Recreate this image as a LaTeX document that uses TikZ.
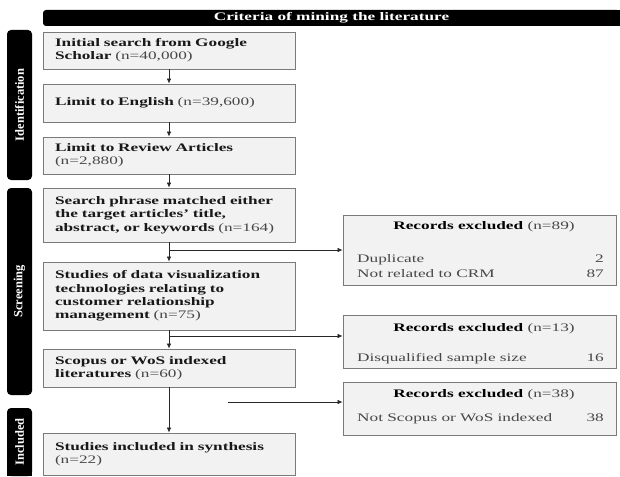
\documentclass[tikz,border=0pt]{standalone}
\usepackage{fontspec}
\setmainfont[FakeStretch=1.5]{Liberation Serif}
\newfontfamily\sidefont{Liberation Serif}
\usetikzlibrary{arrows.meta}
\pgfdeclarelayer{bg}
\pgfsetlayers{bg,main}
\definecolor{boxfill}{HTML}{F2F2F2}
\definecolor{boxline}{HTML}{7A7A7A}
\definecolor{numgray}{HTML}{474747}
\newcommand{\nval}[1]{\textmd{\color{numgray}#1}}
\begin{document}
\begin{tikzpicture}[x=1pt,y=-1pt,
  every node/.style={font=\fontsize{11.5}{13.3}\selectfont},
  mainbox/.style={draw=boxline, fill=boxfill, line width=0.8pt, text width=228pt,
    inner xsep=12pt, inner ysep=0pt, align=left, minimum width=252pt,
    font=\fontsize{11.5}{13.3}\selectfont\bfseries, text=black!90},
  exbox/.style={draw=boxline, fill=boxfill, line width=0.8pt, minimum width=273pt, inner sep=0pt},
  extitle/.style={anchor=base, inner sep=0pt, font=\fontsize{11.5}{13.3}\selectfont\bfseries},
  exitem/.style={anchor=base west, inner sep=0pt, text=numgray},
  exnum/.style={anchor=base east, inner sep=0pt, text=numgray},
  sidebar/.style={fill=black, rounded corners=4pt, rotate=90, minimum height=25pt, inner sep=0pt,
    text=white, font=\sidefont\fontsize{12.5}{12.5}\selectfont\bfseries},
  header/.style={fill=black, rounded corners=3pt, minimum width=577pt, minimum height=16pt, inner sep=0pt,
    text=white, font=\fontsize{11.5}{13.3}\selectfont\bfseries},
  flow/.style={draw=black!85, line width=0.7pt, -{Latex[length=5pt,width=4.5pt]}},
]
\useasboundingbox (0,0) rectangle (620,476);

% header
\node[header] (hd) at (331.5,18) {Criteria of mining the literature};

% side bars
\node[sidebar, minimum width=150pt] (sid) at (19.5,105) {Identification};
\node[sidebar, minimum width=207pt] (sscr) at (19.5,291.5) {Screening};
\node[sidebar, minimum width=68pt] (sinc) at (19.5,442) {Included};

\begin{pgfonlayer}{bg}
  \fill[black] (331.5,10) rectangle (620,26);
  \fill[black] (7,445) rectangle (32,476);
\end{pgfonlayer}

% main boxes
\node[mainbox, minimum height=37pt] (B1) at (169,50.5) {Initial search from Google\\Scholar \nval{(n=40,000)}};
\node[mainbox, minimum height=38pt] (B2) at (169,103) {Limit to English \nval{(n=39,600)}};
\node[mainbox, minimum height=37pt] (B3) at (169,155.5) {Limit to Review Articles\\\nval{(n=2,880)}};
\node[mainbox, minimum height=54pt] (B4) at (169,215) {Search phrase matched either\\the target articles' title,\\abstract, or keywords \nval{(n=164)}};
\node[mainbox, minimum height=68pt] (B5) at (169,296) {Studies of data visualization\\technologies relating to\\customer relationship\\management \nval{(n=75)}};
\node[mainbox, minimum height=38pt] (B6) at (169,368) {Scopus or WoS indexed\\literatures \nval{(n=60)}};
\node[mainbox, minimum height=42pt] (B7) at (169,454) {Studies included in synthesis\\\nval{(n=22)}};

% exclusion boxes
\node[exbox, minimum height=70pt] (E1) at (479.5,250) {};
\node[exbox, minimum height=53pt] (E2) at (479.5,341.5) {};
\node[exbox, minimum height=53pt] (E3) at (479.5,408.5) {};

\node[extitle] (E1h) at (484,229) {Records excluded \nval{(n=89)}};
\node[exitem] (E1a) at (357,262) {Duplicate};
\node[exnum] (E1an) at (604,262) {2};
\node[exitem] (E1b) at (357,277) {Not related to CRM};
\node[exnum] (E1bn) at (604,277) {87};

\node[extitle] (E2h) at (484,331) {Records excluded \nval{(n=13)}};
\node[exitem] (E2a) at (357,361) {Disqualified sample size};
\node[exnum] (E2an) at (604,361) {16};

\node[extitle] (E3h) at (484,397) {Records excluded \nval{(n=38)}};
\node[exitem] (E3a) at (357,421) {Not Scopus or WoS indexed};
\node[exnum] (E3an) at (604,421) {38};

% connectors
\draw[flow] (B1.south) -- (B2.north);
\draw[flow] (B2.south) -- (B3.north);
\draw[flow] (B3.south) -- (B4.north);
\draw[flow] (B4.south) -- (B5.north);
\draw[flow] (B5.south) -- (B6.north);
\draw[flow] (B6.south) -- (B7.north);

\coordinate (j1) at (169,250);
\coordinate (j2) at (169,336);
\coordinate (s3) at (228,402);
\draw[flow] (j1) -- (j1 -| E1.west);
\draw[flow] (j2) -- (j2 -| E2.west);
\draw[flow] (s3) -- (s3 -| E3.west);
\end{tikzpicture}
\end{document}
